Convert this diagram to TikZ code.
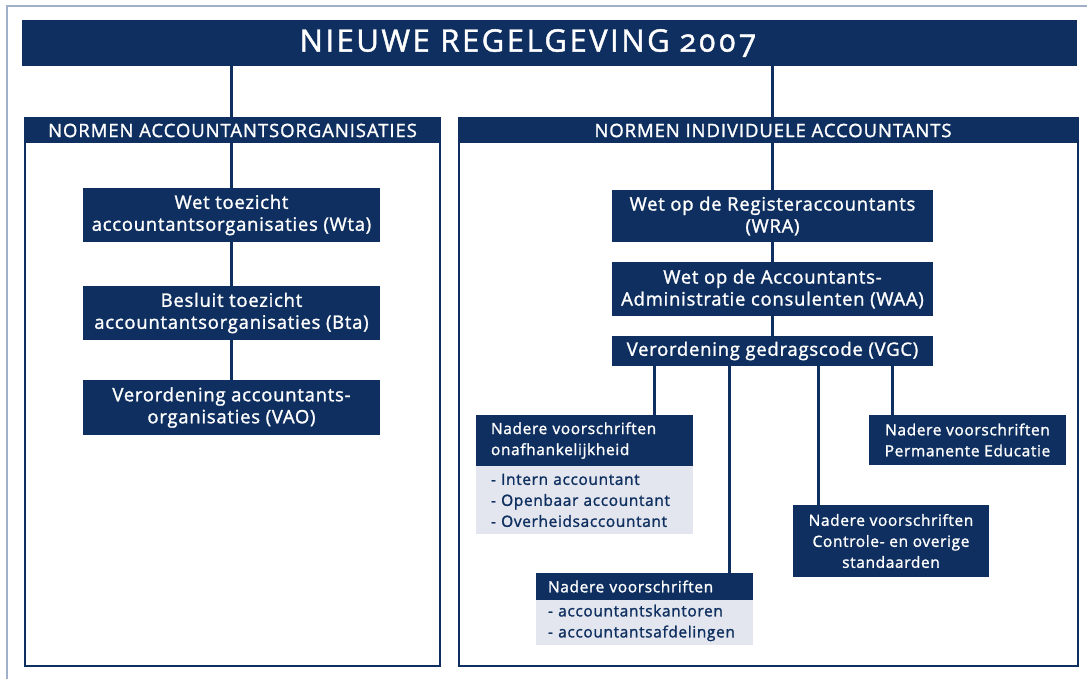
\documentclass[tikz,border=0pt]{standalone}
\usepackage{fontspec}
\setmainfont[LetterSpace=4,FakeBold=1.4]{Open Sans}
\newfontfamily\titlefont[LetterSpace=8,Numbers=OldStyle,FakeBold=1.4]{Open Sans}
\newfontfamily\capsfont[LetterSpace=5,FakeBold=1.4]{Open Sans}
\definecolor{navy}{RGB}{14,47,95}
\definecolor{pale}{RGB}{227,230,238}
\definecolor{rim}{RGB}{160,176,200}
\newcommand{\bigtext}{\fontsize{18.5}{22}\selectfont}
\newcommand{\smalltext}{\fontsize{15.5}{21}\selectfont}

\begin{document}
\begin{tikzpicture}[x=1pt, y=-1pt,
	every node/.style={font=\bigtext, inner sep=0pt},
	darkbox/.style={fill=navy, text=white, align=center},
	palebox/.style={fill=pale, text=navy, align=left, font=\smalltext},
	section/.style={draw=navy, line width=2.5pt},
	header/.style={darkbox, minimum height=25pt, font=\capsfont\fontsize{18.5}{18}\selectfont},
	link/.style={navy, line width=3pt}]
	\useasboundingbox (0,0) rectangle (1087,679);
	\draw[rim, line width=1.5pt] (7,679) -- (7,6) -- (1087,6);

	% top and the two sections
	\node[darkbox, minimum width=1055pt, minimum height=46pt, font=\titlefont\fontsize{31}{31}\selectfont] (title) at (549.5,43) {NIEUWE REGELGEVING 2007\hspace*{43pt}};
	\node[section, minimum width=415pt, minimum height=548pt] (secL) at (232.5,392) {};
	\node[section, minimum width=619pt, minimum height=548pt] (secR) at (768.5,392) {};
	\node[header, minimum width=415pt] (hdrL) at (232.5,130.5) {NORMEN ACCOUNTANTSORGANISATIES};
	\node[header, minimum width=619pt] (hdrR) at (768.5,130.5) {\hspace*{9pt}NORMEN INDIVIDUELE ACCOUNTANTS};

	% left column
	\node[darkbox, minimum width=297pt, minimum height=54pt] (wta) at (231.5,215) {Wet toezicht\\accountantsorganisaties (Wta)};
	\node[darkbox, minimum width=297pt, minimum height=54pt] (bta) at (231.5,313) {Besluit toezicht\\accountantsorganisaties (Bta)};
	\node[darkbox, minimum width=297pt, minimum height=55pt] (vao) at (231.5,407.5) {Verordening accountants-\\organisaties (VAO)};

	% right column
	\node[darkbox, minimum width=321pt, minimum height=52pt] (wra) at (772.5,216) {Wet op de Registeraccountants\\(WRA)};
	\node[darkbox, minimum width=321pt, minimum height=54pt] (waa) at (772.5,289) {Wet op de Accountants-\\Administratie consulenten (WAA)};
	\node[darkbox, minimum width=321pt, minimum height=30pt] (vgc) at (772.5,351) {Verordening gedragscode (VGC)};

	% nadere voorschriften
	\node[darkbox, font=\smalltext, align=left, text width=187pt, inner xsep=15pt, minimum height=51pt] (onafh) at (584.5,440.5) {Nadere voorschriften\\onafhankelijkheid};
	\node[palebox, text width=187pt, inner xsep=15pt, minimum height=68pt, anchor=north] (onafhlist) at (onafh.south) {- Intern accountant\\- Openbaar accountant\\- Overheidsaccountant};
	\node[darkbox, font=\smalltext, align=left, text width=193pt, inner xsep=12pt, minimum height=27pt] (kant) at (644.5,586.5) {Nadere voorschriften};
	\node[palebox, text width=193pt, inner xsep=12pt, minimum height=45pt, anchor=north] (kantlist) at (kant.south) {- accountantskantoren\\- accountantsafdelingen};
	\node[darkbox, font=\smalltext, minimum width=196pt, minimum height=72pt] (ctrl) at (891,541) {Nadere voorschriften\\Controle- en overige\\standaarden};
	\node[darkbox, font=\smalltext, minimum width=197pt, minimum height=50pt] (pe) at (967.5,440) {Nadere voorschriften\\Permanente Educatie};

	% lines
	\draw[link] (title.south -| wta.north) -- (hdrL.north -| wta.north);
	\draw[link] (hdrL.south -| wta.north) -- (wta.north);
	\draw[link] (wta.south) -- (bta.north);
	\draw[link] (bta.south) -- (vao.north);
	\draw[link] (title.south -| wra.north) -- (hdrR.north -| wra.north);
	\draw[link] (hdrR.south -| wra.north) -- (wra.north);
	\draw[link] (wra.south) -- (waa.north);
	\draw[link] (waa.south) -- (vgc.north);
	\foreach \nd/\dx in {onafh/70, kant/84.5, ctrl/-73, pe/-75.5}
		\draw[link] ([xshift=\dx pt]\nd.north) -- ([xshift=\dx pt]\nd.north |- vgc.south);
\end{tikzpicture}
\end{document}
